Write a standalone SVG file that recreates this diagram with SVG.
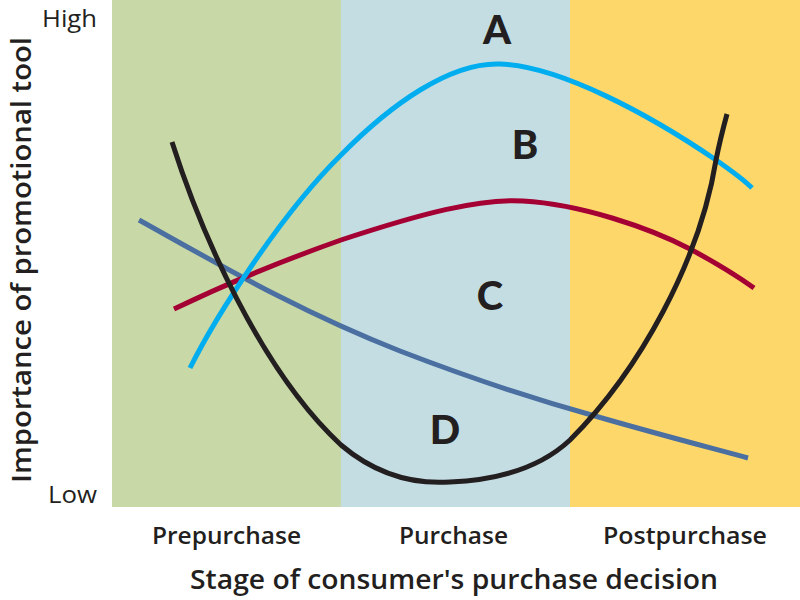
<svg xmlns="http://www.w3.org/2000/svg" width="800" height="600" viewBox="0 0 800 600">
<style>
.t{font-family:"Open Sans",Lato,"Liberation Sans",sans-serif;fill:#231F20}
.ax{font-size:23px;font-weight:400}
.stage{font-size:23px;font-weight:600}
.title{font-size:27px;font-weight:600}
.lbl{font-family:Lato,"Open Sans",sans-serif;font-size:40px;font-weight:900}
.c{fill:none;stroke-width:5;stroke-linecap:butt}
</style>
<rect width="800" height="600" fill="#ffffff"/>
<g id="panels">
<rect x="112" y="0" width="229" height="507" fill="#C8D8A6"/>
<rect x="341" y="0" width="229" height="507" fill="#C3DDE3"/>
<rect x="570" y="0" width="230" height="507" fill="#FED76A"/>
</g>
<g id="connectors">
<path class="c" stroke="#4A6FA0" d="M139,220 C220,265 300,312 400,351 C470,378 530,398 595,416 C650,432 700,445 748,458"/>
<path class="c" stroke="#A50034" d="M174,309 C230,282 290,258 341,240 C420,214 480,198 523,201 C580,204 650,228 690,249 C720,265 740,278 754,288"/>
<path class="c" stroke="#00AEEF" d="M190,368 C215,318 280,215 341,155 C390,105 450,62 500,64 C560,66 650,115 716,160 C730,170 742,178 752,188"/>
<path class="c" stroke="#231F20" d="M172,142 C200,230 260,370 341,445 C380,478 420,484 450,482 C500,480 540,468 570,440 C640,370 700,260 716,160 C720,140 724,125 727,114"/>
</g>
<g id="A"><text class="t lbl" x="497" y="44" text-anchor="middle">A</text></g>
<g id="B"><text class="t lbl" x="525" y="159" text-anchor="middle">B</text></g>
<g id="C"><text class="t lbl" x="490" y="310" text-anchor="middle">C</text></g>
<g id="D"><text class="t lbl" x="445" y="444" text-anchor="middle">D</text></g>
<g id="axes">
<text class="t ax" x="42" y="27" textLength="55" lengthAdjust="spacingAndGlyphs">High</text>
<text class="t ax" x="48" y="503" textLength="49" lengthAdjust="spacingAndGlyphs">Low</text>
<text class="t title" transform="translate(31,483) rotate(-90)" textLength="446" lengthAdjust="spacingAndGlyphs">Importance of promotional tool</text>
<text class="t stage" x="152" y="544" textLength="149" lengthAdjust="spacingAndGlyphs">Prepurchase</text>
<text class="t stage" x="399" y="544" textLength="109" lengthAdjust="spacingAndGlyphs">Purchase</text>
<text class="t stage" x="603" y="544" textLength="164" lengthAdjust="spacingAndGlyphs">Postpurchase</text>
<text class="t title" x="190" y="589" textLength="528" lengthAdjust="spacingAndGlyphs">Stage of consumer's purchase decision</text>
</g>
</svg>
